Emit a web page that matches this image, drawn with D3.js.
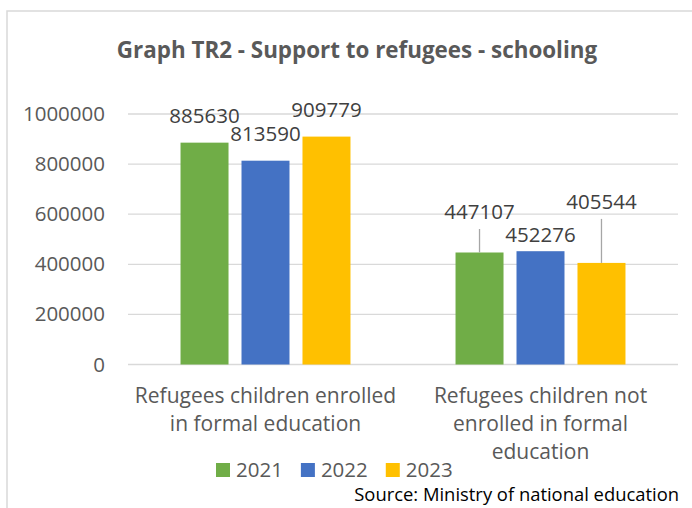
<!DOCTYPE html>
<html>
<head>
<meta charset="utf-8">
<script src="https://cdn.jsdelivr.net/npm/d3@7"></script>
<style>
  html, body { margin: 0; padding: 0; background: #fff; }
  svg { display: block; }
  text { font-family: "Open Sans", "Noto Sans", sans-serif; }
</style>
</head>
<body>
<svg id="chart" width="692" height="508"></svg>
<script>
// ---- data ----
const categories = [
  "Refugees children enrolled in formal education",
  "Refugees children not enrolled in formal education"
];
const years = ["2021", "2022", "2023"];
const values2021 = [885630, 447107];
const values2022 = [813590, 452276];
const values2023 = [909779, 405544];
const yTicks = [0, 200000, 400000, 600000, 800000, 1000000];
const titleText = "Graph TR2 - Support to refugees - schooling";
const sourceText = "Source: Ministry of national education";

// ---- presentation ----
const colors = { "2021": "#70AD47", "2022": "#4472C4", "2023": "#FFC000" };
// distance (px) from bar top to label baseline, per category / year (manually placed labels)
const labelLift = [[20, 20, 20], [33.5, 9, 54]];

const seriesByYear = { "2021": values2021, "2022": values2022, "2023": values2023 };
const svg = d3.select("#chart");

// chart border
svg.append("rect")
  .attr("x", 7).attr("y", 11).attr("width", 720).attr("height", 520)
  .attr("fill", "#fff").attr("stroke", "#d9d9d9").attr("stroke-width", 1.5);

// title
svg.append("text")
  .attr("x", 357).attr("y", 58)
  .attr("text-anchor", "middle")
  .attr("font-size", 22.4).attr("font-weight", "bold")
  .attr("fill", "#595959")
  .text(titleText);

const plotLeft = 128, plotRight = 678, plotTop = 114, plotBottom = 364.5;

const y = d3.scaleLinear().domain([0, 1000000]).range([plotBottom, plotTop]);
const x0 = d3.scaleBand().domain(categories).range([plotLeft, plotRight])
  .paddingInner(0.382).paddingOuter(0.191);
const x1 = d3.scaleBand().domain(years).range([0, x0.bandwidth()]).paddingInner(0.213);

// gridlines + y axis labels
const yAxis = d3.axisLeft(y).tickValues(yTicks).tickSize(0).tickPadding(0)
  .tickFormat(d3.format("d"));
const yG = svg.append("g").attr("transform", `translate(105,0)`).call(yAxis);
yG.select(".domain").remove();
yG.selectAll("text")
  .attr("font-size", 20.5).attr("fill", "#595959")
  .attr("font-family", "Open Sans, sans-serif");

svg.append("g").selectAll("line").data(yTicks).join("line")
  .attr("x1", plotLeft).attr("x2", plotRight)
  .attr("y1", d => y(d)).attr("y2", d => y(d))
  .attr("stroke", "#d9d9d9").attr("stroke-width", 1.3);

// bars
const rows = [];
categories.forEach((c, ci) => {
  years.forEach((yr, si) => {
    rows.push({ cat: c, ci, year: yr, si, value: seriesByYear[yr][ci] });
  });
});

svg.append("g").selectAll("rect").data(rows).join("rect")
  .attr("x", d => x0(d.cat) + x1(d.year))
  .attr("y", d => y(d.value))
  .attr("width", x1.bandwidth())
  .attr("height", d => y(0) - y(d.value))
  .attr("fill", d => colors[d.year]);

// leader lines for moved labels
svg.append("g").selectAll("line")
  .data(rows.filter(d => labelLift[d.ci][d.si] > 25))
  .join("line")
  .attr("x1", d => x0(d.cat) + x1(d.year) + x1.bandwidth() / 2)
  .attr("x2", d => x0(d.cat) + x1(d.year) + x1.bandwidth() / 2)
  .attr("y1", d => y(d.value) - labelLift[d.ci][d.si] + 10)
  .attr("y2", d => y(d.value))
  .attr("stroke", "#a6a6a6").attr("stroke-width", 1.3);

// data labels
svg.append("g").selectAll("text").data(rows).join("text")
  .attr("x", d => x0(d.cat) + x1(d.year) + x1.bandwidth() / 2)
  .attr("y", d => y(d.value) - labelLift[d.ci][d.si])
  .attr("text-anchor", "middle")
  .attr("font-size", 20.5).attr("fill", "#404040")
  .text(d => d.value);

// category labels (wrapped)
function wrapLines(text, fontSize, maxW) {
  const probe = svg.append("text").attr("font-size", fontSize);
  const words = text.split(" ");
  const lines = [];
  let cur = "";
  words.forEach(w => {
    const t = cur ? cur + " " + w : w;
    probe.text(t);
    if (probe.node().getComputedTextLength() > maxW && cur) {
      lines.push(cur); cur = w;
    } else cur = t;
  });
  if (cur) lines.push(cur);
  probe.remove();
  return lines;
}
const catFont = 21;
categories.forEach(c => {
  const lines = wrapLines(c, catFont, 270);
  const t = svg.append("text")
    .attr("x", x0(c) + x0.bandwidth() / 2)
    .attr("y", 403)
    .attr("text-anchor", "middle")
    .attr("font-size", catFont).attr("fill", "#595959");
  lines.forEach((l, i) => {
    t.append("tspan").attr("x", x0(c) + x0.bandwidth() / 2)
      .attr("y", 403 + i * 28).text(l);
  });
});

// legend
const lg = svg.append("g");
let lx = 216;
years.forEach(yr => {
  lg.append("rect").attr("x", lx).attr("y", 463).attr("width", 14).attr("height", 14)
    .attr("fill", colors[yr]);
  const t = lg.append("text").attr("x", lx + 20).attr("y", 477)
    .attr("font-size", 20.5).attr("fill", "#595959").text(yr);
  lx = lx + 20 + t.node().getComputedTextLength() + 18;
});

// source
svg.append("text")
  .attr("x", 679).attr("y", 501)
  .attr("text-anchor", "end")
  .attr("font-size", 18.4).attr("fill", "#000")
  .text(sourceText);
</script>
</body>
</html>
